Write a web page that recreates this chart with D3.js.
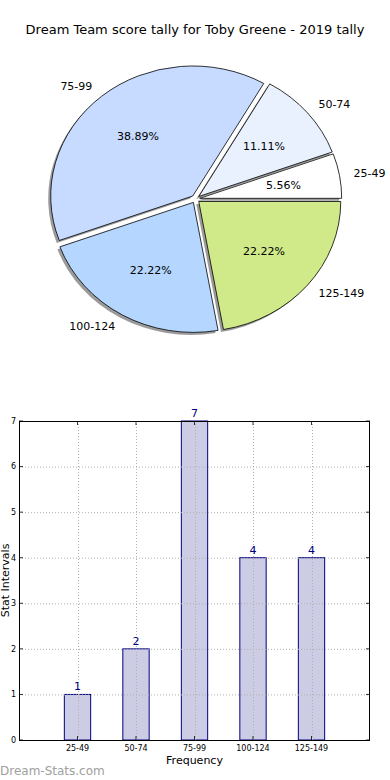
<!DOCTYPE html>
<html><head><meta charset="utf-8">
<script src="https://cdn.jsdelivr.net/npm/d3@7"></script>
<style>body{margin:0;background:#fff;} svg{display:block;font-family:"DejaVu Sans",sans-serif;}</style>
</head><body>
<svg id="c" width="390" height="780"></svg>
<script>
const categories = ["25-49","50-74","75-99","100-124","125-149"];
const counts = [1,2,7,4,4];
const pieColors = ["#ffffff","#e9f1ff","#c6dbff","#b4d6ff","#d0ea8a"];
const yTicks = [0,1,2,3,4,5,6,7];
const title = "Dream Team score tally for Toby Greene - 2019 tally";

const svg = d3.select("#c");
svg.append("rect").attr("width",390).attr("height",780).attr("fill","#fff");

svg.append("text").attr("x",195).attr("y",34).attr("text-anchor","middle")
  .attr("font-size",13).attr("fill","#000").text(title);

// ---- Pie ----
const cx = 195.5, cy = 199, rx = 142, ry = 130, explode = 0.03;
const total = d3.sum(counts);
const pie = d3.pie().sort(null).startAngle(Math.PI/2).endAngle(Math.PI/2 - 2*Math.PI);
const arcs = pie(counts);
const arc = d3.arc().innerRadius(0).outerRadius(1);
const pg = svg.append("g");
function off(d, dist){
  const a = (d.startAngle + d.endAngle)/2;
  return [cx + (explode*Math.sin(a) + dist*Math.sin(a))*rx, cy + (-explode*Math.cos(a) - dist*Math.cos(a))*ry];
}
// shadows
arcs.forEach((d,i)=>{
  const [ox,oy] = off(d,0);
  pg.append("path").attr("d",arc(d))
    .attr("transform",`translate(${ox-2.5},${oy+2.5}) scale(${rx},${ry})`)
    .attr("fill","#7a7a7a").attr("opacity",0.75);
});
arcs.forEach((d,i)=>{
  const [ox,oy] = off(d,0);
  pg.append("path").attr("d",arc(d))
    .attr("transform",`translate(${ox},${oy}) scale(${rx},${ry})`)
    .attr("fill",pieColors[i]).attr("stroke","#000").attr("stroke-width",0.8)
    .attr("vector-effect","non-scaling-stroke").attr("stroke-linejoin","round");
});
arcs.forEach((d,i)=>{
  const [px,py] = off(d,0.6);
  pg.append("text").attr("x",px).attr("y",py).attr("dy","0.35em").attr("text-anchor","middle")
    .attr("font-size",11).attr("fill","#000").text((counts[i]/total*100).toFixed(2)+"%");
  const [lx,ly] = off(d,1.1);
  const [c0x] = off(d,0);
  pg.append("text").attr("x",lx).attr("y",ly).attr("dy","0.35em")
    .attr("text-anchor", lx > c0x ? "start" : "end")
    .attr("font-size",11).attr("fill","#000").text(categories[i]);
});

// ---- Bar chart ----
const L = 19, R = 370, T = 421, B = 740;
const x = d3.scaleLinear().domain([-1,5]).range([L,R]);
const y = d3.scaleLinear().domain([0,7]).range([B,T]);
const bw = 0.45;
const bg = svg.append("g");
bg.selectAll("rect.bar").data(counts).join("rect").attr("class","bar")
  .attr("x",(d,i)=>x(i-bw/2)).attr("width",(d,i)=>x(i+bw/2)-x(i-bw/2))
  .attr("y",d=>y(d)).attr("height",d=>y(0)-y(d))
  .attr("fill","#ccccE5").attr("stroke","#000080").attr("stroke-width",1);
// grid
const grid = bg.append("g").attr("stroke","#b0b0b0").attr("stroke-width",1).attr("stroke-dasharray","1,2");
yTicks.forEach(t=>grid.append("line").attr("x1",L).attr("x2",R).attr("y1",y(t)+0.5).attr("y2",y(t)+0.5));
categories.forEach((c,i)=>grid.append("line").attr("x1",Math.round(x(i))+0.5).attr("x2",Math.round(x(i))+0.5).attr("y1",T).attr("y2",B));
// ticks inside
const tk = bg.append("g").attr("stroke","#000").attr("stroke-width",0.8);
yTicks.forEach(t=>{
  tk.append("line").attr("x1",L).attr("x2",L+4).attr("y1",y(t)).attr("y2",y(t));
  tk.append("line").attr("x1",R-4).attr("x2",R).attr("y1",y(t)).attr("y2",y(t));
});
categories.forEach((c,i)=>{
  tk.append("line").attr("x1",x(i)).attr("x2",x(i)).attr("y1",B).attr("y2",B-4);
  tk.append("line").attr("x1",x(i)).attr("x2",x(i)).attr("y1",T).attr("y2",T+4);
});
// frame
bg.append("rect").attr("x",L+0.5).attr("y",T+0.5).attr("width",R-L-1).attr("height",B-T).attr("fill","none").attr("stroke","#000").attr("stroke-width",1);
// tick labels
yTicks.forEach(t=>bg.append("text").attr("x",L-3).attr("y",y(t)).attr("dy","0.35em").attr("text-anchor","end").attr("font-size",8).attr("fill","#000").text(t));
categories.forEach((c,i)=>bg.append("text").attr("x",x(i)).attr("y",B+11).attr("text-anchor","middle").attr("font-size",8).attr("fill","#000").text(c));
// value labels
counts.forEach((v,i)=>bg.append("text").attr("x",x(i)).attr("y",y(v)-4).attr("text-anchor","middle").attr("font-size",11).attr("fill","#000080").text(v));
// axis labels
bg.append("text").attr("x",(L+R)/2).attr("y",764).attr("text-anchor","middle").attr("font-size",11).attr("fill","#000").text("Frequency");
bg.append("text").attr("transform",`translate(9,${(T+B)/2}) rotate(-90)`).attr("text-anchor","middle").attr("font-size",11).attr("fill","#000").text("Stat Intervals");
// watermark
svg.append("text").attr("x",0).attr("y",775).attr("font-size",12).attr("fill","#a0a0a0").text("Dream-Stats.com");
</script>
</body></html>
